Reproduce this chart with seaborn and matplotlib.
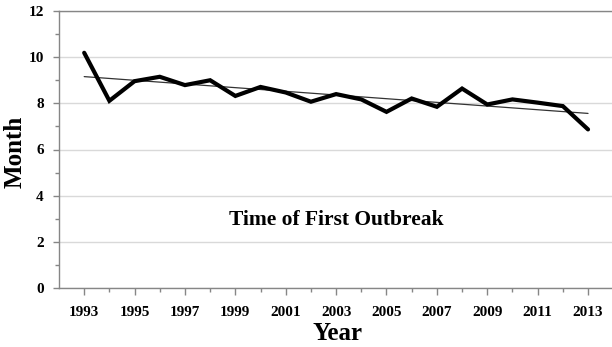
import numpy as np
import pandas as pd
import matplotlib
matplotlib.use("Agg")
import matplotlib.pyplot as plt
import seaborn as sns

# Month of the first outbreak in each year
years = [1993, 1994, 1995, 1996, 1997, 1998, 1999, 2000, 2001, 2002, 2003,
         2004, 2005, 2006, 2007, 2008, 2009, 2010, 2011, 2012, 2013]
months = [10.19, 8.11, 8.96, 9.15, 8.79, 9.00, 8.32, 8.71, 8.47, 8.07, 8.40,
          8.17, 7.63, 8.21, 7.85, 8.64, 7.95, 8.17, 8.03, 7.88, 6.87]

year_ticks = [1993, 1995, 1997, 1999, 2001, 2003, 2005, 2007, 2009, 2011, 2013]
month_ticks = [0, 2, 4, 6, 8, 10, 12]

df = pd.DataFrame({"Year": years, "Month": months})

sns.set_theme(style="white")
plt.rcParams["font.family"] = ["Liberation Serif", "DejaVu Serif"]
plt.rcParams["font.weight"] = "bold"
plt.rcParams["text.color"] = "black"
plt.rcParams["axes.labelcolor"] = "black"

fig = plt.figure(figsize=(6.12, 3.47), dpi=100)
ax = fig.add_axes([59 / 612, 1 - 288 / 347, 1 - 59 / 612 + 0.002, (288 - 11) / 347])

# linear trend
sns.regplot(data=df, x="Year", y="Month", scatter=False, ci=None, ax=ax,
            line_kws={"color": "#333333", "lw": 0.9})
# yearly series
sns.lineplot(data=df, x="Year", y="Month", ax=ax, color="black", lw=3.0,
             solid_joinstyle="miter")

ax.set_xlim(1992, 2014)
ax.set_ylim(0, 12)
ax.set_xticks(year_ticks)
ax.set_xticklabels([str(y) for y in year_ticks])
ax.set_xticks([y for y in years if y not in year_ticks], minor=True)
ax.set_yticks(month_ticks)
ax.set_yticklabels([str(m) for m in month_ticks])
ax.set_yticks([1, 3, 5, 7, 9, 11], minor=True)

ax.yaxis.grid(True, color="#d9d9d9", lw=1.0)
ax.set_axisbelow(True)

ax.spines["right"].set_visible(False)
for side in ["left", "bottom", "top"]:
    ax.spines[side].set_color("#868686")
    ax.spines[side].set_linewidth(1.0)

ax.tick_params(axis="both", which="both", direction="out", colors="#868686",
               labelcolor="black", labelsize=11)
ax.tick_params(axis="x", which="major", length=5, width=1, pad=8)
ax.tick_params(axis="x", which="minor", length=3, width=1)
ax.tick_params(axis="y", which="major", length=4, width=1, pad=7)
ax.tick_params(axis="y", which="minor", length=3, width=1)
ax.tick_params(bottom=True, left=True, which="both")
for lbl in ax.get_xticklabels() + ax.get_yticklabels():
    lbl.set_fontweight("bold")

ax.set_xlabel("Year", fontsize=18, fontweight="bold")
ax.set_ylabel("Month", fontsize=18, fontweight="bold")
ax.xaxis.set_label_coords((337 - 59) / 553, -(340 - 288) / 277)
ax.yaxis.set_label_coords(-(59 - 15) / 553, (288 - 152) / 277)
ax.xaxis.label.set_va("baseline")
ax.yaxis.label.set_va("center")

ax.text(2003, 2.95, "Time of First Outbreak", ha="center", va="center",
        fontsize=15.5, fontweight="bold")

fig.savefig("out.png", dpi=100)
